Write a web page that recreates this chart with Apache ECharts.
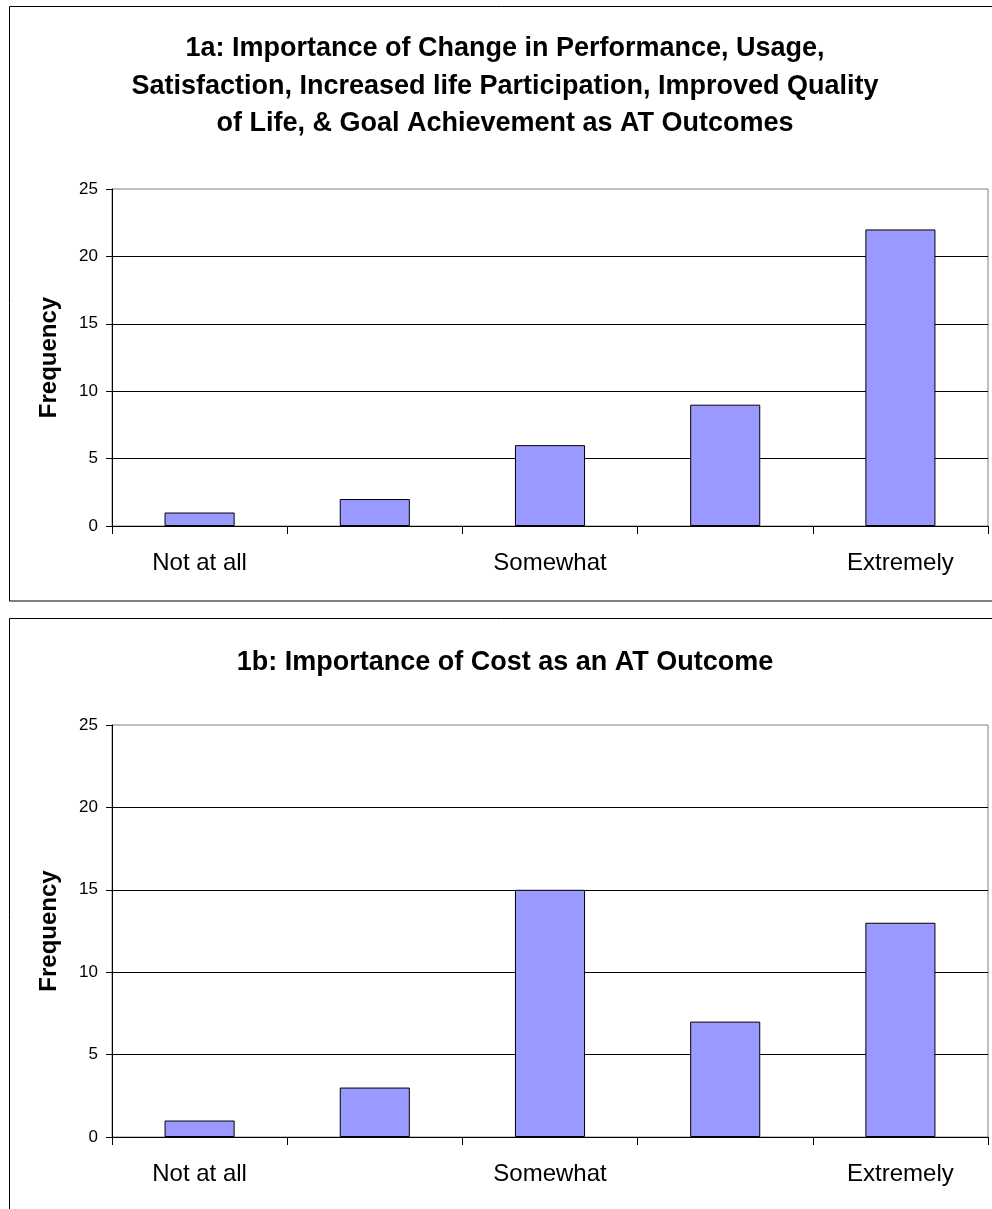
<!DOCTYPE html>
<html><head><meta charset="utf-8">
<script src="https://cdn.jsdelivr.net/npm/echarts@6/dist/echarts.min.js"></script>
<style>html,body{margin:0;padding:0;background:#fff}#c{width:992px;height:1209px}</style>
</head><body><div id="c"></div>
<script>
var categories = ['1', '2', '3', '4', '5'];
var tickLabels = ['Not at all', '', 'Somewhat', '', 'Extremely'];
var valuesA = [1, 2, 6, 9, 22];
var valuesB = [1, 3, 15, 7, 13];
var titleA = '1a: Importance of Change in Performance, Usage,\nSatisfaction, Increased life Participation, Improved Quality\nof Life, & Goal Achievement as AT Outcomes';
var titleB = '1b: Importance of Cost as an AT Outcome';
var yName = 'Frequency';

var FONT = '"Liberation Sans", Arial, sans-serif';
var chart = echarts.init(document.getElementById('c'), null, {renderer: 'canvas'});

function xAxis(gi) {
  return {
    type: 'category', gridIndex: gi, data: categories, boundaryGap: true,
    axisLine: {lineStyle: {color: '#000', width: 1}},
    axisTick: {show: true, length: 8, alignWithLabel: false, interval: 0, lineStyle: {color: '#000'}},
    axisLabel: {interval: 0, margin: 25, color: '#000', fontFamily: FONT, fontSize: 24,
      formatter: function (v, i) { return tickLabels[i]; }},
    splitLine: {show: false}
  };
}
function yAxis(gi) {
  return {
    type: 'value', gridIndex: gi, min: 0, max: 25, interval: 5,
    name: yName, nameLocation: 'middle', nameGap: 51, nameRotate: 90,
    nameTextStyle: {fontFamily: FONT, fontSize: 24, fontWeight: 'bold', color: '#000'},
    axisLine: {show: true, lineStyle: {color: '#000', width: 1}},
    axisTick: {show: true, length: 6, lineStyle: {color: '#000'}},
    axisLabel: {margin: 14, color: '#000', fontFamily: FONT, fontSize: 17},
    splitLine: {show: true, showMaxLine: false, showMinLine: false, lineStyle: {color: '#000', width: 1}}
  };
}
function barSeries(gi, vals) {
  return {
    type: 'bar', xAxisIndex: gi, yAxisIndex: gi, data: vals, barWidth: '40%',
    itemStyle: {color: '#9999FF', borderColor: '#000', borderWidth: 1},
    silent: true, animation: false
  };
}

chart.setOption({
  animation: false,
  backgroundColor: '#fff',
  title: [
    {text: titleA, left: 500, top: 25, textAlign: 'center',
     textStyle: {fontFamily: FONT, fontSize: 27, fontWeight: 'bold', color: '#000', lineHeight: 37.5}},
    {text: titleB, left: 500, top: 639, textAlign: 'center',
     textStyle: {fontFamily: FONT, fontSize: 27, fontWeight: 'bold', color: '#000', lineHeight: 37.5}}
  ],
  graphic: [
    {type: 'rect', shape: {x: 9.5, y: 6.5, width: 1000, height: 594.5}, style: {fill: 'none', stroke: '#000', lineWidth: 1}, z: -10},
    {type: 'rect', shape: {x: 9.5, y: 618.5, width: 1000, height: 620}, style: {fill: 'none', stroke: '#000', lineWidth: 1}, z: -10}
  ],
  grid: [
    {left: 112, top: 189, width: 876, height: 337, show: true, borderColor: '#808080', borderWidth: 1, containLabel: false},
    {left: 112, top: 725, width: 876, height: 412, show: true, borderColor: '#808080', borderWidth: 1, containLabel: false}
  ],
  xAxis: [xAxis(0), xAxis(1)],
  yAxis: [yAxis(0), yAxis(1)],
  series: [barSeries(0, valuesA), barSeries(1, valuesB)]
});
</script></body></html>
